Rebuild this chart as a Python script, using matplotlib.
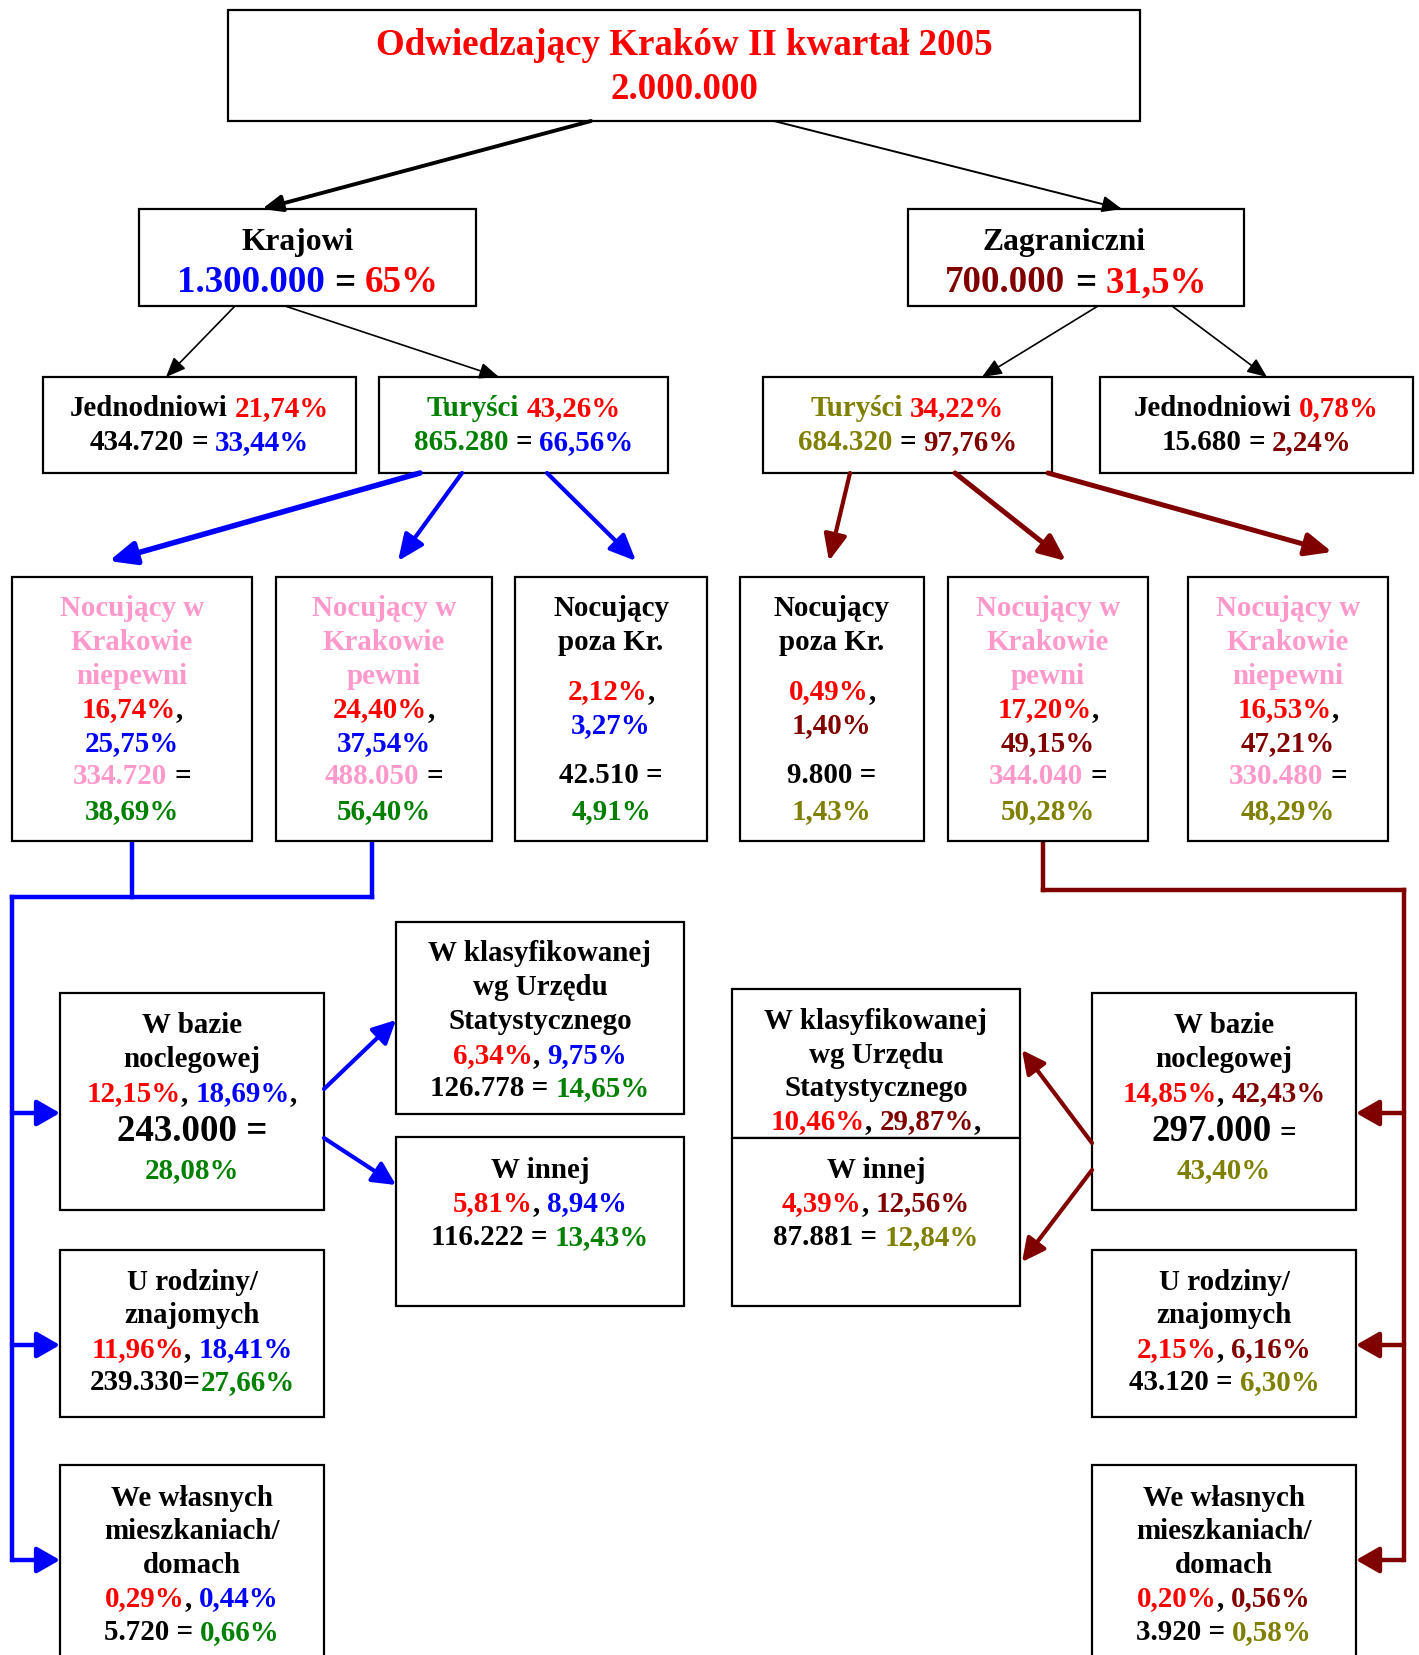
import matplotlib
matplotlib.use("Agg")
import matplotlib.pyplot as plt
from matplotlib.patches import Rectangle, FancyArrowPatch
from matplotlib.font_manager import FontProperties

RED = "#ff0000"
BLUE = "#0000ff"
GREEN = "#008000"
PINK = "#ff99cc"
MAROON = "#800000"
OLIVE = "#808000"
BLACK = "#000000"

# values
title_text = "Odwiedzający Kraków II kwartał 2005"
total_visitors = "2.000.000"
domestic = ["1.300.000", "65%"]
foreign = ["700.000", "31,5%"]
dom_day = ["21,74%", "434.720", "33,44%"]
dom_tour = ["43,26%", "865.280", "66,56%"]
for_tour = ["34,22%", "684.320", "97,76%"]
for_day = ["0,78%", "15.680", "2,24%"]

dom_unsure = ["16,74%", "25,75%", "334.720", "38,69%"]
dom_sure = ["24,40%", "37,54%", "488.050", "56,40%"]
dom_outside = ["2,12%", "3,27%", "42.510", "4,91%"]
for_outside = ["0,49%", "1,40%", "9.800", "1,43%"]
for_sure = ["17,20%", "49,15%", "344.040", "50,28%"]
for_unsure = ["16,53%", "47,21%", "330.480", "48,29%"]

dom_base = ["12,15%", "18,69%", "243.000", "28,08%"]
dom_classified = ["6,34%", "9,75%", "126.778", "14,65%"]
dom_other = ["5,81%", "8,94%", "116.222", "13,43%"]
dom_family = ["11,96%", "18,41%", "239.330", "27,66%"]
dom_own = ["0,29%", "0,44%", "5.720", "0,66%"]

for_base = ["14,85%", "42,43%", "297.000", "43,40%"]
for_classified = ["10,46%", "29,87%"]
for_other = ["4,39%", "12,56%", "87.881", "12,84%"]
for_family = ["2,15%", "6,16%", "43.120", "6,30%"]
for_own = ["0,20%", "0,56%", "3.920", "0,58%"]

W, H = 1419, 1655
fig = plt.figure(figsize=(W / 100, H / 100), dpi=100)
ax = fig.add_axes([0, 0, 1, 1])
ax.set_xlim(0, W)
ax.set_ylim(H, 0)
ax.axis("off")
renderer = fig.canvas.get_renderer()
PT = 0.72  # points per pixel at 100 dpi
FS = 29    # normal text size in px


def font(px):
    return FontProperties(family="Liberation Serif", weight="bold", size=px * PT)


def advance(s, px):
    fp = font(px)
    w1 = renderer.get_text_width_height_descent("|" + s + "|", fp, False)[0]
    w0 = renderer.get_text_width_height_descent("||", fp, False)[0]
    return w1 - w0


def draw_line(cx, cy, segs, px=FS):
    segs = [(s[0], s[1], s[2] if len(s) > 2 else px) for s in segs]
    total = sum(advance(t, p) for t, c, p in segs)
    x = cx - total / 2
    base = cy + 0.33 * max(p for _, _, p in segs)
    for t, c, p in segs:
        lead = len(t) - len(t.lstrip())
        ax.text(x + advance(t[:lead], p), base, t.strip(), color=c,
                fontproperties=font(p), ha="left", va="baseline", zorder=5)
        x += advance(t, p)


def box(x0, y0, x1, y1, lines):
    ax.add_patch(Rectangle((x0, y0), x1 - x0, y1 - y0, facecolor="white",
                           edgecolor=BLACK, lw=1.6, zorder=3))
    cx = (x0 + x1) / 2
    for item in lines:
        cy, segs = item[0], item[1]
        px = item[2] if len(item) > 2 else FS
        dx = item[3] if len(item) > 3 else 0
        draw_line(cx + dx, cy, segs, px)


def arrow(p0, p1, color, lw, hl=12, hw=5):
    ax.add_patch(FancyArrowPatch(p0, p1, arrowstyle=f"-|>,head_length={hl},head_width={hw}",
                                 color=color, lw=lw, shrinkA=0, shrinkB=0,
                                 mutation_scale=1, zorder=4))


def path(xs, ys, color, lw=3.2):
    ax.plot(xs, ys, color=color, lw=lw, solid_joinstyle="miter", zorder=2)


# level 0 and 1
box(228, 10, 1140, 121, [(43, [(title_text, RED)], 37), (87, [(total_visitors, RED)], 37)])
box(139, 209, 476, 306, [(240, [("Krajowi", BLACK)], 31.5, -10),
                         (280, [(domestic[0], BLUE, 37), (" = ", BLACK, 37), (domestic[1], RED, 37)])])
box(908, 209, 1244, 306, [(240, [("Zagraniczni", BLACK)], 31.5, -12),
                          (280, [(foreign[0], MAROON, 37), (" = ", BLACK, 37), (foreign[1], RED, 37)])])
arrow((591, 121), (262, 209), BLACK, 2.8)
arrow((774, 121), (1122, 209), BLACK, 1.4)

# level 2
box(43, 377, 356, 473, [(406, [("Jednodniowi ", BLACK), (dom_day[0], RED)]),
                        (440, [(dom_day[1], BLACK), (" = ", BLACK), (dom_day[2], BLUE)])])
box(379, 377, 668, 473, [(406, [("Turyści ", GREEN), (dom_tour[0], RED)]),
                         (440, [(dom_tour[1], GREEN), (" = ", BLACK), (dom_tour[2], BLUE)])])
box(763, 377, 1052, 473, [(406, [("Turyści ", OLIVE), (for_tour[0], RED)]),
                          (440, [(for_tour[1], OLIVE), (" = ", BLACK), (for_tour[2], MAROON)])])
box(1100, 377, 1413, 473, [(406, [("Jednodniowi ", BLACK), (for_day[0], RED)]),
                           (440, [(for_day[1], BLACK), (" = ", BLACK), (for_day[2], MAROON)])])
arrow((235, 306), (166, 377), BLACK, 1.2)
arrow((285, 306), (499, 377), BLACK, 1.2)
arrow((1098, 306), (982, 377), BLACK, 1.2)
arrow((1172, 306), (1267, 377), BLACK, 1.2)

# level 3
ROWS = [606, 640, 674, 707, 741, 774, 809]


def stay_box(x0, x1, words, vals, c2, c4):
    lines = [(ROWS[0], [("Nocujący w", PINK)]), (ROWS[1], [("Krakowie", PINK)]),
             (ROWS[2], [(words, PINK)]),
             (ROWS[3], [(vals[0], RED), (",", BLACK)]),
             (ROWS[4], [(vals[1], c2)]),
             (ROWS[5], [(vals[2], PINK), (" =", BLACK)]),
             (ROWS[6], [(vals[3], c4)])]
    box(x0, 577, x1, 841, lines)


def outside_box(x0, x1, vals, c2, c4):
    lines = [(606, [("Nocujący", BLACK)]), (640, [("poza Kr.", BLACK)]),
             (689, [(vals[0], RED), (",", BLACK)]),
             (723, [(vals[1], c2)]),
             (773, [(vals[2] + " =", BLACK)]),
             (809, [(vals[3], c4)])]
    box(x0, 577, x1, 841, lines)


stay_box(12, 252, "niepewni", dom_unsure, BLUE, GREEN)
stay_box(276, 492, "pewni", dom_sure, BLUE, GREEN)
outside_box(515, 707, dom_outside, BLUE, GREEN)
outside_box(740, 924, for_outside, MAROON, OLIVE)
stay_box(948, 1148, "pewni", for_sure, MAROON, OLIVE)
stay_box(1188, 1388, "niepewni", for_unsure, MAROON, OLIVE)

arrow((420, 473), (109, 561), BLUE, 4.0, 16, 7)
arrow((462, 473), (398, 561), BLUE, 3.0, 16, 7)
arrow((547, 473), (636, 561), BLUE, 3.0, 16, 7)
arrow((850, 473), (829, 561), MAROON, 3.0, 16, 7)
arrow((955, 473), (1066, 561), MAROON, 3.6, 16, 7)
arrow((1048, 473), (1332, 552), MAROON, 3.6, 16, 7)

# left (domestic) accommodation
path([132, 132], [841, 897], BLUE)
path([372, 372], [841, 897], BLUE)
path([12, 372], [897, 897], BLUE)
path([12, 12], [897, 1560], BLUE)
for y in (1113, 1345, 1560):
    arrow((12, y), (60, y), BLUE, 3.2, 14, 8)

box(60, 993, 324, 1210, [(1023, [("W bazie", BLACK)]), (1057, [("noclegowej", BLACK)]),
                         (1091, [(dom_base[0], RED), (", ", BLACK), (dom_base[1], BLUE), (",", BLACK)]),
                         (1129, [(dom_base[2] + " =", BLACK)], 37),
                         (1168, [(dom_base[3], GREEN)])])
box(396, 922, 684, 1114, [(951, [("W klasyfikowanej", BLACK)]), (985, [("wg Urzędu", BLACK)]),
                          (1019, [("Statystycznego", BLACK)]),
                          (1053, [(dom_classified[0], RED), (", ", BLACK), (dom_classified[1], BLUE)]),
                          (1086, [(dom_classified[2] + " = ", BLACK), (dom_classified[3], GREEN)])])
box(396, 1137, 684, 1306, [(1168, [("W innej", BLACK)]),
                           (1201, [(dom_other[0], RED), (", ", BLACK), (dom_other[1], BLUE)]),
                           (1235, [(dom_other[2] + " = ", BLACK), (dom_other[3], GREEN)])])
box(60, 1250, 324, 1417, [(1280, [("U rodziny/", BLACK)]), (1313, [("znajomych", BLACK)]),
                          (1347, [(dom_family[0], RED), (", ", BLACK), (dom_family[1], BLUE)]),
                          (1380, [(dom_family[2] + "=", BLACK), (dom_family[3], GREEN)])])
box(60, 1465, 324, 1680, [(1496, [("We własnych", BLACK)]), (1529, [("mieszkaniach/", BLACK)]),
                          (1563, [("domach", BLACK)]),
                          (1596, [(dom_own[0], RED), (", ", BLACK), (dom_own[1], BLUE)]),
                          (1630, [(dom_own[2] + " = ", BLACK), (dom_own[3], GREEN)])])
arrow((324, 1089), (396, 1020), BLUE, 3.0, 14, 7)
arrow((324, 1138), (396, 1185), BLUE, 3.0, 14, 7)

# right (foreign) accommodation
path([1043, 1043], [841, 890], MAROON)
path([1043, 1404], [890, 890], MAROON)
path([1404, 1404], [890, 1560], MAROON)
for y in (1113, 1345, 1560):
    arrow((1404, y), (1356, y), MAROON, 3.2, 14, 8)

box(1092, 993, 1356, 1210, [(1023, [("W bazie", BLACK)]), (1057, [("noclegowej", BLACK)]),
                            (1091, [(for_base[0], RED), (", ", BLACK), (for_base[1], MAROON)]),
                            (1129, [(for_base[2], BLACK, 37), (" =", BLACK, FS)], 37),
                            (1168, [(for_base[3], OLIVE)])])
box(732, 989, 1020, 1138, [(1019, [("W klasyfikowanej", BLACK)]), (1053, [("wg Urzędu", BLACK)]),
                           (1086, [("Statystycznego", BLACK)]),
                           (1119, [(for_classified[0], RED), (", ", BLACK), (for_classified[1], MAROON),
                                   (",", BLACK)])])
box(732, 1138, 1020, 1306, [(1168, [("W innej", BLACK)]),
                            (1201, [(for_other[0], RED), (", ", BLACK), (for_other[1], MAROON)]),
                            (1235, [(for_other[2] + " = ", BLACK), (for_other[3], OLIVE)])])
box(1092, 1250, 1356, 1417, [(1280, [("U rodziny/", BLACK)]), (1313, [("znajomych", BLACK)]),
                             (1347, [(for_family[0], RED), (", ", BLACK), (for_family[1], MAROON)]),
                             (1380, [(for_family[2] + " = ", BLACK), (for_family[3], OLIVE)])])
box(1092, 1465, 1356, 1680, [(1496, [("We własnych", BLACK)]), (1529, [("mieszkaniach/", BLACK)]),
                             (1563, [("domach", BLACK)]),
                             (1596, [(for_own[0], RED), (", ", BLACK), (for_own[1], MAROON)]),
                             (1630, [(for_own[2] + " = ", BLACK), (for_own[3], OLIVE)])])
arrow((1092, 1143), (1022, 1050), MAROON, 3.0, 14, 7)
arrow((1092, 1170), (1022, 1262), MAROON, 3.0, 14, 7)

fig.savefig("out.png", dpi=100, facecolor="white")
